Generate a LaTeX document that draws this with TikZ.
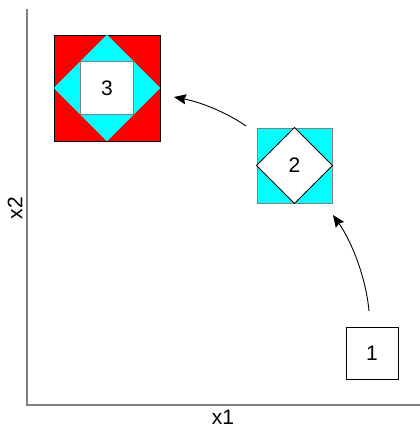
\documentclass[tikz,border=0pt]{standalone}
\usepackage{fontspec}
\setmainfont{Liberation Sans}
\usetikzlibrary{arrows.meta}
\definecolor{cyanfill}{HTML}{00FFFF}
\definecolor{redfill}{HTML}{FF0000}
\definecolor{axisgrey}{HTML}{808080}
\begin{document}
\begin{tikzpicture}[x=1pt,y=-1pt,
  lbl/.style={font=\fontsize{21}{24}\selectfont},
  sq/.style={draw=black,line width=0.9pt,minimum size=#1,inner sep=0pt,lbl},
  axis/.style={draw=axisgrey,line width=1.2pt},
  arr/.style={draw=black,line width=0.9pt,-{Stealth[length=12pt,width=10pt,inset=1.5pt]}}]
\useasboundingbox (0,0) rectangle (420,432);
% axes
\coordinate (otop) at (27,9);
\coordinate (origin) at (27,405);
\coordinate (xend) at (420,405);
\draw[axis] (otop) -- (origin) -- (xend);
\node[lbl] (xlab) at (223,417) {x1};
\node[lbl,rotate=90] (ylab) at (15,208) {x2};
% box 3
\node[sq=106pt,fill=redfill] (b3) at (107,88) {};
\fill[cyanfill] (b3.north) -- (b3.east) -- (b3.south) -- (b3.west) -- cycle;
\node[sq=53pt,fill=white,draw=axisgrey] (b3in) at (b3.center) {3};
% box 2
\node[sq=75pt,fill=cyanfill,draw=axisgrey] (b2) at (294.5,165.5) {};
\draw[fill=white,line width=0.9pt] (b2.north) -- (b2.east) -- (b2.south) -- (b2.west) -- cycle;
\node[lbl] (b2t) at (b2.center) {2};
% box 1
\node[sq=52pt,fill=white] (b1) at (372,353.5) {1};
% arrows
\coordinate (a1s) at (369,311);
\coordinate (a1e) at (333,215);
\coordinate (a2s) at (246,126);
\coordinate (a2e) at (174,97);
\draw[arr] (a1s) .. controls (366,278) and (352,242) .. (a1e);
\draw[arr] (a2s) .. controls (226,112) and (200,102) .. (a2e);
\end{tikzpicture}
\end{document}
